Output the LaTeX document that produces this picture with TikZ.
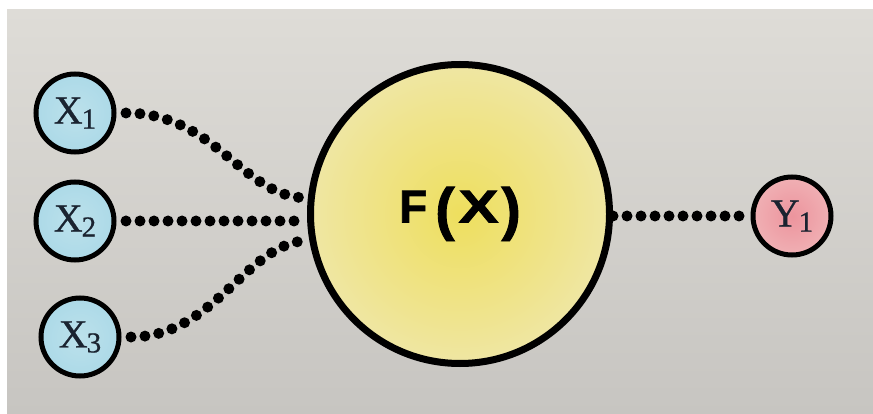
\documentclass[tikz,border=0pt]{standalone}
\usepackage{fontspec}
\usepackage{graphicx}
\setmainfont{Liberation Serif}
\newfontfamily\lblfont{Liberation Serif}[FakeBold=0.7]
\newfontfamily\fxfont{Liberation Sans Bold}[FakeBold=1.6]
\definecolor{bgtop}{HTML}{DEDCD7}
\definecolor{bgbot}{HTML}{C7C5C1}
\definecolor{txtdark}{HTML}{1A2330}
\definecolor{yc}{HTML}{EEDF5E}
\definecolor{ym}{HTML}{EFE48F}
\definecolor{yo}{HTML}{EFEBC9}
\definecolor{ye}{HTML}{F0EEE5}
\definecolor{bc}{HTML}{BCE1EB}
\definecolor{bm}{HTML}{A9D8E7}
\definecolor{be}{HTML}{92CBDF}
\definecolor{pc}{HTML}{EC949D}
\definecolor{pm}{HTML}{F0B0B4}
\definecolor{pe}{HTML}{F4D0CF}
\pgfdeclareradialshading{yglow}{\pgfpoint{0bp}{0bp}}{color(0bp)=(yc); color(18bp)=(ym); color(38bp)=(yo); color(50bp)=(ye)}
\pgfdeclareradialshading{bglow}{\pgfpoint{0bp}{0bp}}{color(0bp)=(bc); color(30bp)=(bm); color(50bp)=(be)}
\pgfdeclareradialshading{pglow}{\pgfpoint{0bp}{0bp}}{color(0bp)=(pc); color(25bp)=(pm); color(50bp)=(pe)}
\newcommand\subsc[1]{\raisebox{-5pt}{\fontsize{29}{29}\selectfont #1}}
\tikzset{
  smallnode/.style={circle, draw=black, line width=5pt, minimum size=78pt, inner sep=0pt, outer sep=12pt, text=txtdark, font=\lblfont\fontsize{40}{40}\selectfont},
  xnode/.style={smallnode, shade, shading=bglow},
  ynode/.style={smallnode, shade, shading=pglow},
  bignode/.style={circle, draw=black, line width=7pt, minimum size=299pt, inner sep=0pt, shade, shading=yglow, text=black},
  dots/.style={draw=black, line width=11pt, line cap=round, dash pattern=on 0pt off 14pt}
}
\begin{document}
\begin{tikzpicture}[x=1pt,y=-1pt]
\useasboundingbox (0,0) rectangle (873,414);
\fill[white] (0,0) rectangle (873,414);
\shade[top color=bgtop,bottom color=bgbot] (7,10) rectangle (873,414);
\node[bignode] (F) at (460,214) {\fxfont\fontsize{46}{46}\selectfont F\kern8pt\raisebox{-6.5pt}{\fontsize{58}{58}\selectfont(}\kern4pt\scalebox{1.3}[1]{X}\kern3pt\raisebox{-6.5pt}{\fontsize{58}{58}\selectfont)}};
\node[xnode] (X1) at (75,113) {X\kern-1pt\subsc{1}};
\node[xnode] (X2) at (75,221) {X\kern-1pt\subsc{2}};
\node[xnode] (X3) at (80,337) {X\kern-1pt\subsc{3}};
\node[ynode] (Y1) at (792,216) {Y\kern-1pt\subsc{1}};
\draw[dots] (X1.east) .. controls +(90,0) and +(-65,0) .. (F.174);
\draw[dots] (X2.east) -- (X2.east -| F.west);
\draw[dots] (X3.east) .. controls +(85,0) and +(-62,0) .. (F.190.5);
\draw[dots] (Y1.west -| F.east) -- (Y1.west);
\end{tikzpicture}
\end{document}
